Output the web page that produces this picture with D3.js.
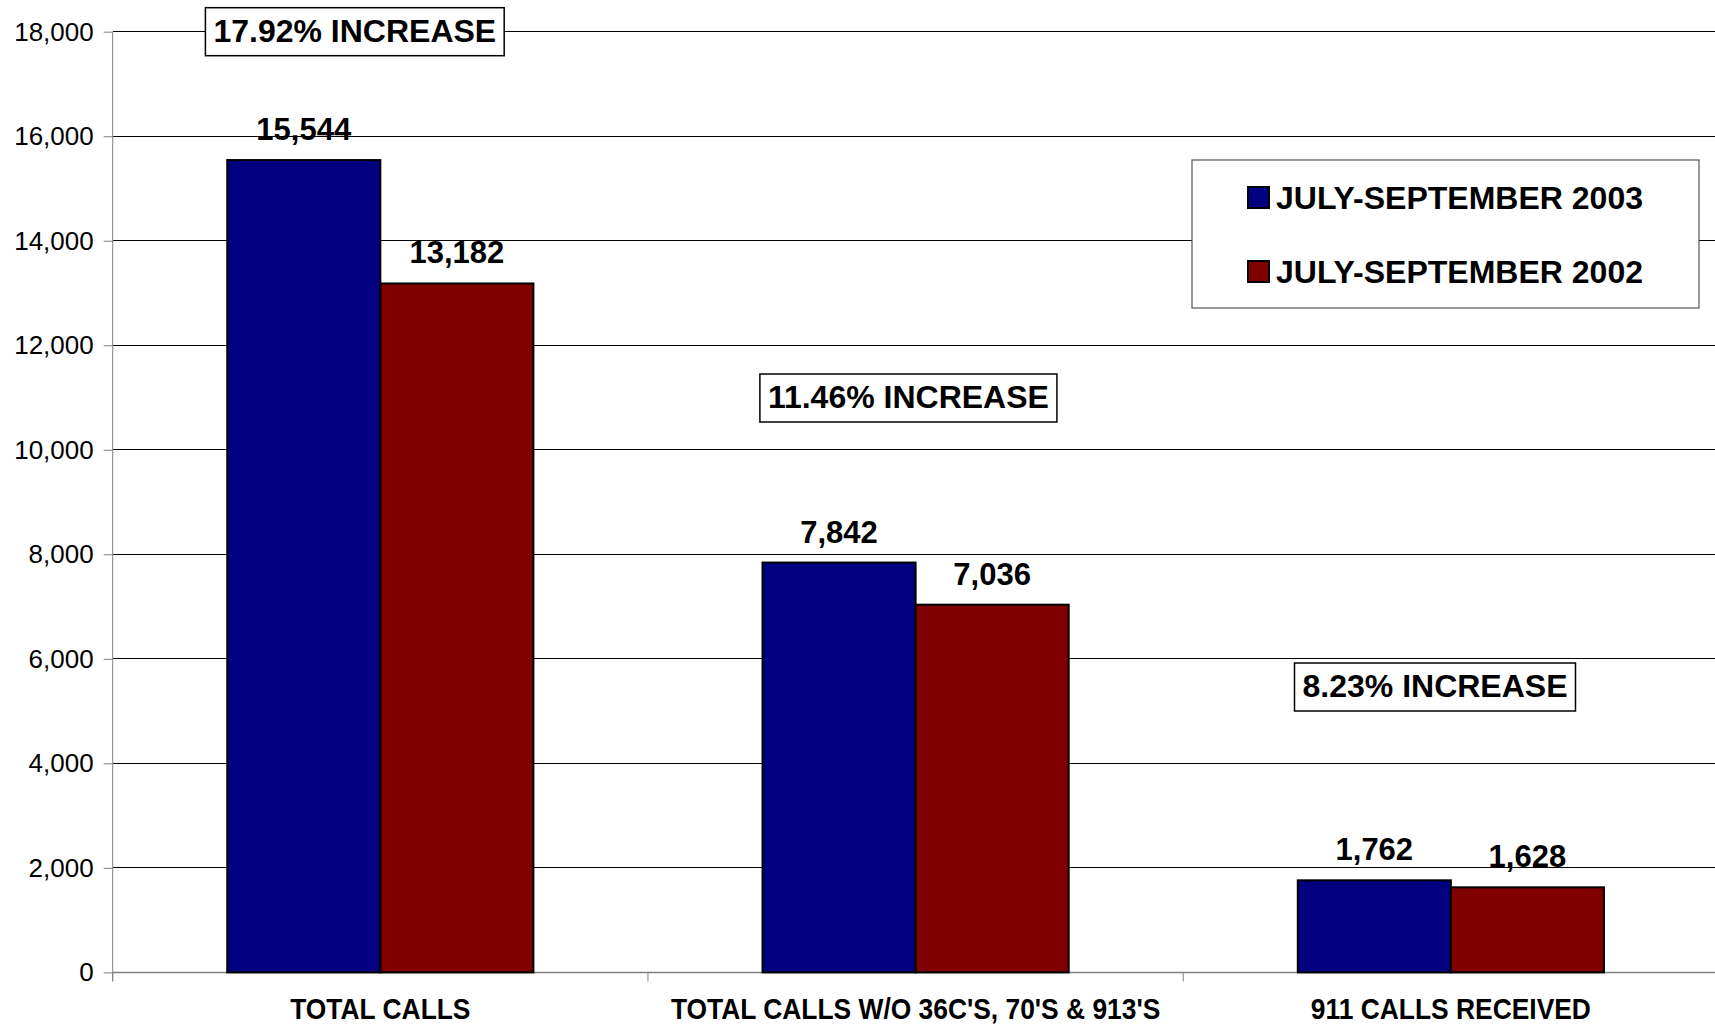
<!DOCTYPE html>
<html><head><meta charset="utf-8">
<script src="https://cdn.jsdelivr.net/npm/d3@7"></script>
<style>
body{margin:0;background:#fff}
svg{display:block}
text{font-family:"Liberation Sans",Arial,Helvetica,sans-serif;fill:#000}
</style>
</head><body>
<svg id="chart" width="1715" height="1026"></svg>
<script>
// ---- data ----
const categories = ["TOTAL CALLS", "TOTAL CALLS W/O 36C'S, 70'S & 913'S", "911 CALLS RECEIVED"];
const seriesNames = ["JULY-SEPTEMBER 2003", "JULY-SEPTEMBER 2002"];
const values2003 = [15544, 7842, 1762];
const values2002 = [13182, 7036, 1628];
const yTicks = [0, 2000, 4000, 6000, 8000, 10000, 12000, 14000, 16000, 18000];
const increaseLabels = ["17.92% INCREASE", "11.46% INCREASE", "8.23% INCREASE"];

// ---- layout ----
const W = 1715, H = 1026;
const plot = {left: 112.7, right: 1718.5, top: 31.7, bottom: 972.4};
const colors = ["#000080", "#800000"];
const annoPos = [{cx: 354.8, top: 7.7}, {cx: 908.4, top: 374}, {cx: 1435, top: 663}];
const catBaseline = 1019;

const svg = d3.select("#chart");

const x0 = d3.scaleBand().domain(categories).range([plot.left, plot.right]).padding(0);
const groupPad = 0.214;
const x1 = d3.scaleBand().domain(seriesNames)
  .range([x0.bandwidth() * groupPad, x0.bandwidth() * (1 - groupPad)]).padding(0);
const y = d3.scaleLinear().domain([0, 18000]).range([plot.bottom, plot.top]);

const rows = categories.map((c, i) => ({cat: c, vals: [values2003[i], values2002[i]]}));

// gridlines
svg.append("g").selectAll("line").data(yTicks.filter(d => d > 0)).join("line")
  .attr("x1", plot.left).attr("x2", plot.right)
  .attr("y1", d => y(d)).attr("y2", d => y(d))
  .attr("stroke", "#000").attr("stroke-width", 1).attr("shape-rendering", "crispEdges");

// y axis
const yAxis = svg.append("g").attr("transform", `translate(${plot.left},0)`)
  .call(d3.axisLeft(y).tickValues(yTicks).tickFormat(d3.format(",")).tickSize(9).tickPadding(10));
yAxis.select(".domain").attr("stroke", "#808080").attr("d", `M0,${plot.top}V${plot.bottom + 9}`);
yAxis.selectAll(".tick line").attr("stroke", "#808080");
yAxis.selectAll(".tick text").attr("font-size", 26).attr("fill", "#000")
  .style("font-family", '"Liberation Sans",Arial,sans-serif');

// x axis
const xAxis = svg.append("g").attr("transform", `translate(0,${plot.bottom})`);
xAxis.append("line").attr("x1", plot.left).attr("x2", plot.right).attr("y1", 0).attr("y2", 0)
  .attr("stroke", "#808080").attr("stroke-width", 1.5);
const bounds = categories.map(c => x0(c)).concat([x0(categories[categories.length - 1]) + x0.bandwidth()]);
xAxis.selectAll("line.tk").data(bounds).join("line").attr("class", "tk")
  .attr("x1", d => d).attr("x2", d => d).attr("y1", 0).attr("y2", 9)
  .attr("stroke", "#808080");
svg.append("g").selectAll("text.cat").data(categories).join("text").attr("class", "cat")
  .attr("transform", d => `translate(${x0(d) + x0.bandwidth() / 2},${catBaseline}) scale(0.91,1)`)
  .attr("text-anchor", "middle").attr("font-size", 29).attr("font-weight", "bold")
  .text(d => d);

// bars
const g = svg.append("g").selectAll("g").data(rows).join("g")
  .attr("transform", d => `translate(${x0(d.cat)},0)`);
g.selectAll("rect").data(d => d.vals.map((v, i) => ({v, s: seriesNames[i], i}))).join("rect")
  .attr("x", d => x1(d.s)).attr("width", x1.bandwidth())
  .attr("y", d => y(d.v)).attr("height", d => y(0) - y(d.v))
  .attr("fill", d => colors[d.i]).attr("stroke", "#000").attr("stroke-width", 2);
g.selectAll("text").data(d => d.vals.map((v, i) => ({v, s: seriesNames[i], i}))).join("text")
  .attr("x", d => x1(d.s) + x1.bandwidth() / 2).attr("y", d => y(d.v) - 20)
  .attr("text-anchor", "middle").attr("font-size", 31).attr("font-weight", "bold")
  .text(d => d3.format(",")(d.v));

// annotations
increaseLabels.forEach((t, i) => {
  const a = annoPos[i];
  const grp = svg.append("g");
  const rect = grp.append("rect");
  const txt = grp.append("text").attr("x", a.cx).attr("y", a.top + 34)
    .attr("text-anchor", "middle").attr("font-size", 32).attr("font-weight", "bold").text(t);
  const w = txt.node().getComputedTextLength() + 16;
  rect.attr("x", a.cx - w / 2).attr("y", a.top).attr("width", w).attr("height", 48)
    .attr("fill", "#fff").attr("stroke", "#000").attr("stroke-width", 1.5);
});

// legend
const lg = svg.append("g");
lg.append("rect").attr("x", 1192).attr("y", 160).attr("width", 507).attr("height", 148)
  .attr("fill", "#fff").attr("stroke", "#555").attr("stroke-width", 1.2);
seriesNames.forEach((s, i) => {
  const yy = 187 + i * 74;
  lg.append("rect").attr("x", 1248).attr("y", yy).attr("width", 21).attr("height", 21)
    .attr("fill", colors[i]).attr("stroke", "#000").attr("stroke-width", 2);
  lg.append("text").attr("x", 1276).attr("y", yy + 22).attr("font-size", 32)
    .attr("font-weight", "bold").text(s);
});
</script>
</body></html>
